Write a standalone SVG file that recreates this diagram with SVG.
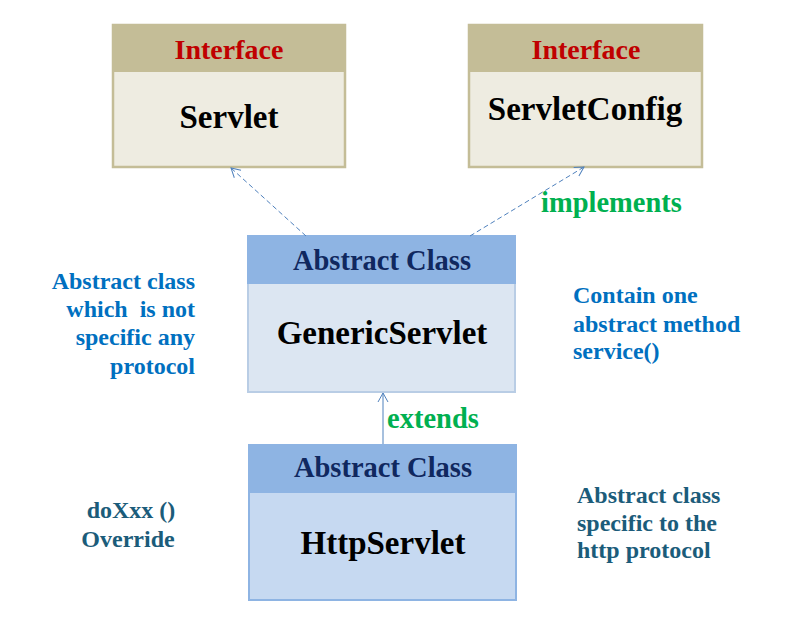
<svg xmlns="http://www.w3.org/2000/svg" width="805" height="617" viewBox="0 0 805 617">
<defs>
<style>
text{font-family:"Liberation Serif","Times New Roman",serif;font-weight:bold;}
.ifh{fill:#C4BD97;}
.ifb{fill:#EEECE1;stroke:#C4BD97;stroke-width:2.5;}
.iftxt{fill:#C00000;font-size:28px;text-anchor:middle;}
.name{fill:#000;font-size:33px;text-anchor:middle;}
.ach{fill:#8EB4E3;}
.actxt{fill:#10285F;font-size:28.5px;text-anchor:middle;}
.lbl{fill:#00B050;font-size:28.5px;}
.note{fill:#0070C0;font-size:24px;}
.note2{fill:#1B5C7A;font-size:24px;}
.conn{fill:none;stroke:#4F81BD;stroke-width:1;}
</style>
<marker id="open" markerWidth="12" markerHeight="12" refX="10" refY="6" orient="auto" markerUnits="userSpaceOnUse">
<path d="M1,1 L10,6 L1,11" fill="none" stroke="#4F81BD" stroke-width="1"/>
</marker>
</defs>
<rect width="805" height="617" fill="#fff"/>
<g id="servlet">
<rect class="ifb" x="113" y="25" width="232" height="142"/>
<rect class="ifh" x="112" y="24" width="234" height="48"/>
<text class="iftxt" x="229" y="59">Interface</text>
<text class="name" x="229" y="128">Servlet</text>
</g>
<g id="servletconfig">
<rect class="ifb" x="469" y="25" width="233" height="142"/>
<rect class="ifh" x="468" y="24" width="235" height="48"/>
<text class="iftxt" x="586" y="59">Interface</text>
<text class="name" x="585" y="120">ServletConfig</text>
</g>
<g id="genericservlet">
<rect x="248" y="236" width="267" height="156" fill="#DCE6F2" stroke="#B9CDE5" stroke-width="2"/>
<rect class="ach" x="247" y="235" width="269" height="49"/>
<text class="actxt" x="382" y="270">Abstract Class</text>
<text class="name" x="382" y="344">GenericServlet</text>
</g>
<g id="httpservlet">
<rect x="249" y="445" width="267" height="155" fill="#C6D9F1" stroke="#8EB4E3" stroke-width="2"/>
<rect class="ach" x="248" y="444" width="269" height="49"/>
<text class="actxt" x="383" y="477">Abstract Class</text>
<text class="name" x="383" y="554">HttpServlet</text>
</g>
<g id="connectors">
<line class="conn" x1="306" y1="236" x2="231" y2="168" stroke-dasharray="5,3" marker-end="url(#open)"/>
<line class="conn" x1="470" y1="236" x2="584" y2="167" stroke-dasharray="5,3" marker-end="url(#open)"/>
<line class="conn" x1="383" y1="444" x2="383" y2="393" marker-end="url(#open)"/>
<text class="lbl" x="541" y="212">implements</text>
<text class="lbl" x="387" y="428">extends</text>
</g>
<g id="notes">
<text class="note" text-anchor="end" xml:space="preserve"><tspan x="195" y="289">Abstract class</tspan><tspan x="195" y="317">which  is not</tspan><tspan x="195" y="345">specific any</tspan><tspan x="195" y="374">protocol</tspan></text>
<text class="note"><tspan x="573" y="303">Contain one</tspan><tspan x="573" y="332">abstract method</tspan><tspan x="573" y="359">service()</tspan></text>
<text class="note2" text-anchor="middle"><tspan x="131" y="518">doXxx ()</tspan><tspan x="128" y="547">Override</tspan></text>
<text class="note2"><tspan x="577" y="503">Abstract class</tspan><tspan x="577" y="531">specific to the</tspan><tspan x="577" y="558">http protocol</tspan></text>
</g>
</svg>
